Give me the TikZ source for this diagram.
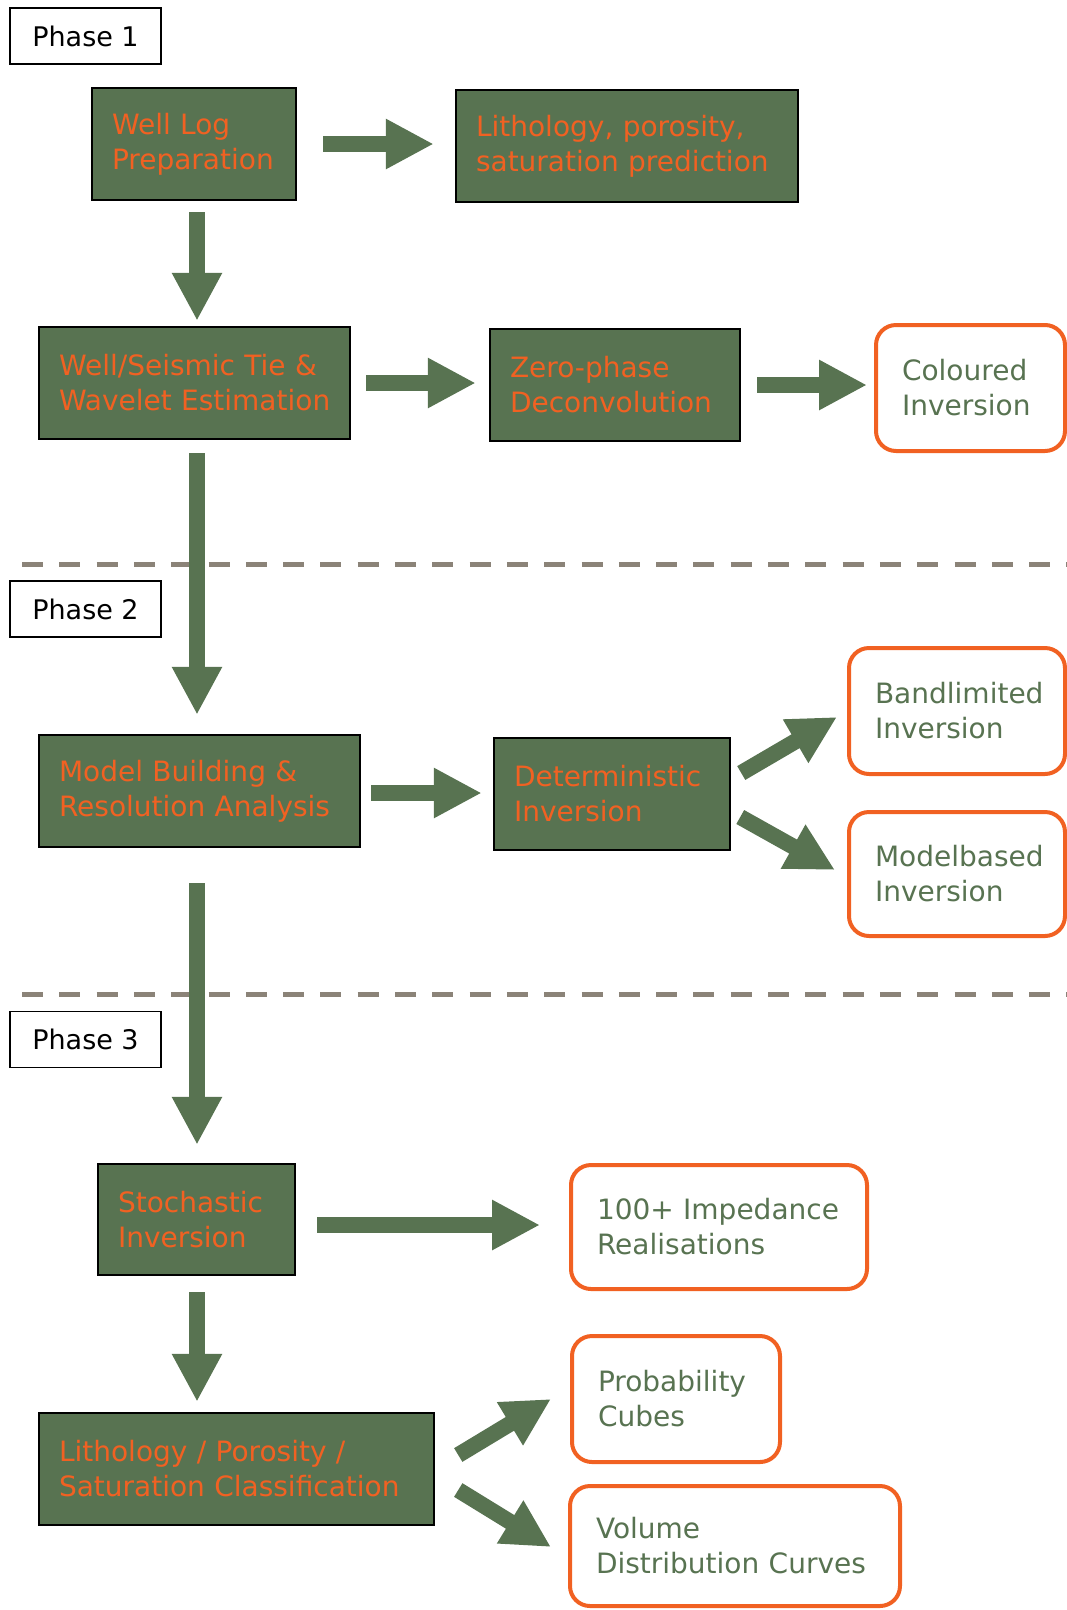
\documentclass[tikz,border=0pt]{standalone}
\usepackage{fontspec}
\setmainfont{DejaVu Sans}
\usetikzlibrary{arrows.meta}
\definecolor{gfill}{RGB}{88,115,81}
\definecolor{org}{RGB}{241,97,34}
\definecolor{dashc}{RGB}{139,131,120}
\newcommand{\boxfont}{\fontsize{28}{35}\selectfont\hyphenpenalty10000\relax\exhyphenpenalty10000\relax}
\newcommand{\phasefont}{\fontsize{27}{35}\selectfont}
\begin{document}
\begin{tikzpicture}[x=1pt,y=-1pt,
  txt/.style={font=\boxfont},
  gbox/.style={txt, draw=black, line width=2.5pt, fill=gfill, text=org, align=left, inner xsep=20pt, inner ysep=0pt},
  obox/.style={txt, draw=org, line width=4pt, rounded corners=20pt, fill=white, text=gfill, align=left, inner xsep=26pt, inner ysep=0pt},
  phase/.style={font=\phasefont, draw=black, line width=1.5pt, text=black, minimum width=151pt, minimum height=56pt, inner sep=0pt},
  blk/.style={draw=gfill, line width=16pt, -{Triangle[length=48pt,width=47pt]}},
  sep/.style={draw=dashc, line width=5pt, dash pattern=on 21pt off 16.3pt}]
\useasboundingbox (0,0) rectangle (1067,1610);

% separators
\coordinate (s2a) at (22,564);
\coordinate (s2b) at (1067,564);
\coordinate (s3a) at (22,994);
\coordinate (s3b) at (1067,994);
\draw[sep] (s2a) -- (s2b);
\draw[sep] (s3a) -- (s3b);

% phase labels
\node[phase] (p1) at (85.5,36) {Phase 1};
\node[phase] (p2) at (85.5,609) {Phase 2};
\node[phase] (p3) at (85.5,1039.5) {Phase 3};

% green boxes
\node[gbox, text width=164pt, minimum height=112pt] (wlp) at (194,144) {\mbox{Well Log}\\Preparation};
\node[gbox, text width=302pt, minimum height=112pt] (lsp) at (627,146) {\mbox{Lithology, porosity,}\\\mbox{saturation prediction}};
\node[gbox, text width=271pt, minimum height=112pt] (wst) at (194.5,383) {\mbox{Well/Seismic Tie \&}\\\mbox{Wavelet Estimation}};
\node[gbox, text width=210pt, minimum height=112pt] (zpd) at (615,385) {Zero-phase\\Deconvolution};
\node[gbox, text width=281pt, minimum height=112pt] (mba) at (199.5,791) {\mbox{Model Building \&}\\\mbox{Resolution Analysis}};
\node[gbox, text width=196pt, minimum height=112pt] (dti) at (612,794) {Deterministic\\Inversion};
\node[gbox, text width=157pt, minimum height=111pt] (sto) at (196.5,1219.5) {Stochastic\\Inversion};
\node[gbox, text width=355pt, minimum height=112pt] (lpc) at (236.5,1469) {\mbox{Lithology / Porosity /}\\\mbox{Saturation Classification}};

% orange boxes
\node[obox, text width=137pt, minimum height=126pt] (coi) at (970.5,388) {Coloured\\Inversion};
\node[obox, text width=164pt, minimum height=126pt] (bli) at (957,711) {Bandlimited\\Inversion};
\node[obox, text width=164pt, minimum height=124pt] (mbi) at (957,874) {Modelbased\\Inversion};
\node[obox, text width=244pt, minimum height=124pt] (imp) at (719,1227) {\mbox{100+ Impedance}\\Realisations};
\node[obox, text width=156pt, minimum height=126pt] (pcu) at (676,1399) {Probability\\Cubes};
\node[obox, text width=278pt, minimum height=120pt] (vdc) at (735,1546) {Volume\\\mbox{Distribution Curves}};

% column for vertical arrows
\coordinate (col) at (197,0);

% arrows
\draw[blk, shorten <=26pt, shorten >=21pt] (wlp.east) -- (wlp.east -| lsp.west);
\draw[blk, shorten <=11pt, shorten >=5pt] (wlp.south -| col) -- (wst.north -| col);
\draw[blk, shorten <=15pt, shorten >=13pt] (wst.east) -- (wst.east -| zpd.west);
\draw[blk, shorten <=16pt, shorten >=7pt] (zpd.east) -- (zpd.east -| coi.west);
\draw[blk, shorten <=13pt, shorten >=19pt] (wst.south -| col) -- (mba.north -| col);
\draw[blk, shorten <=10pt, shorten >=11pt] ([yshift=-2pt]mba.east) -- ([yshift=-2pt]mba.east -| dti.west);
\draw[blk] ([shift={(10,-21)}]dti.east) -- ([shift={(-10,6)}]bli.west);
\draw[blk] ([shift={(9,23)}]dti.east) -- ([shift={(-12,-4)}]mbi.west);
\draw[blk, shorten <=35pt, shorten >=18pt] (mba.south -| col) -- (sto.north -| col);
\draw[blk, shorten <=21pt, shorten >=29pt] ([yshift=-5.5pt]sto.east) -- ([yshift=-5.5pt]sto.east -| imp.west);
\draw[blk, shorten <=16pt, shorten >=10pt] (sto.south -| col) -- (lpc.north -| col);
\draw[blk] ([shift={(23,-14)}]lpc.east) -- ([shift={(-19,0)}]pcu.west);
\draw[blk] ([shift={(23,21)}]lpc.east) -- ([shift={(-17,1)}]vdc.west);
\end{tikzpicture}
\end{document}
